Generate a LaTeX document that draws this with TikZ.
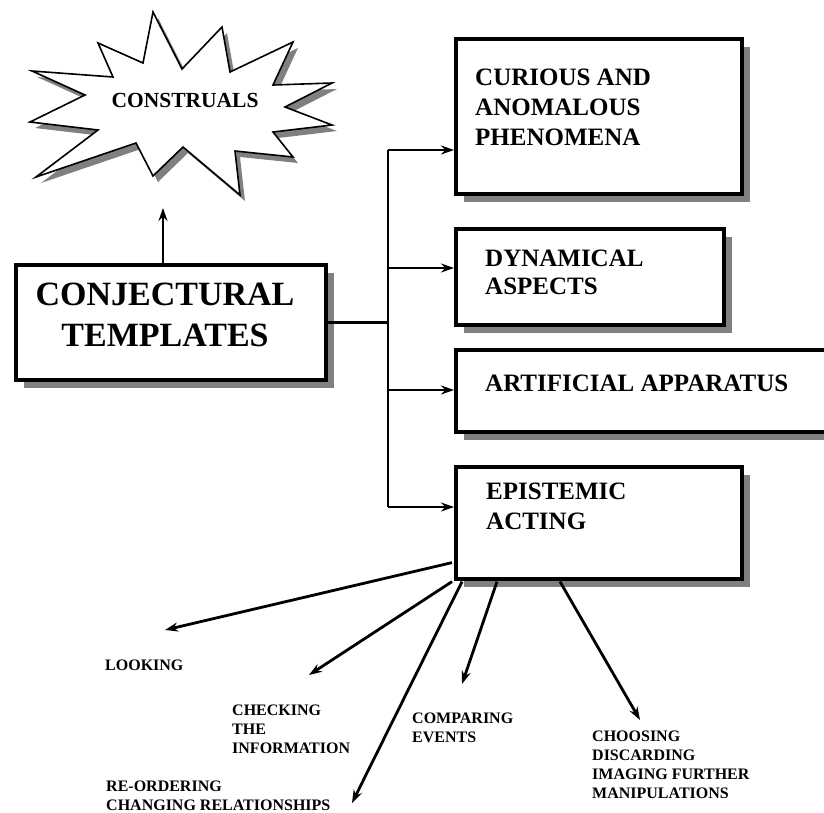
\documentclass[tikz,border=0pt]{standalone}
\usepackage{fontspec}
\setmainfont{Liberation Serif}
\usetikzlibrary{arrows.meta,shadows}

\tikzset{
  framebox/.style = {draw, line width = 3.6pt, fill = white, rectangle,
    anchor = north west, inner sep = 0pt,
    drop shadow = {shadow xshift = 8pt, shadow yshift = -8pt,
      fill = black!50, opacity = 1}},
  boxtext/.style = {anchor = base west, align = left, inner sep = 0pt,
    font = \fontsize{25}{30}\selectfont\bfseries},
  leaftext/.style = {anchor = base west, align = left, inner sep = 0pt,
    font = \fontsize{16}{19}\selectfont\bfseries},
  arr/.style = {line width = 2.8pt, -{Stealth[length = 13pt, width = 9pt]}},
  link/.style = {line width = 2.8pt}
}

\begin{document}
\begin{tikzpicture}[x = 1pt, y = -1pt]
  \clip (0, 0) rectangle (824, 812);

  % the burst
  \filldraw[fill = white, line width = 1.6pt, line join = miter,
      drop shadow = {shadow xshift = 5pt, shadow yshift = -6pt,
        fill = black!50, opacity = 1}]
    (153, 12) -- (182, 69) -- (222, 27) -- (230, 72) -- (293, 42)
    -- (273, 85) -- (332, 83) -- (285, 107) -- (332, 125) -- (273, 132)
    -- (293, 157) -- (235, 151) -- (240, 195) -- (183, 147) -- (153, 176)
    -- (136, 143) -- (36, 177) -- (98, 130) -- (30, 122) -- (85, 95)
    -- (32, 71) -- (113, 77) -- (98, 43) -- (143, 63) -- cycle;
  \node[anchor = base, inner sep = 0pt,
      font = \fontsize{21.5}{26}\selectfont\bfseries]
    (construals) at (185, 107) {CONSTRUALS};
  \coordinate (burst) at (163, 208);

  % main box
  \node[framebox, minimum width = 310pt, minimum height = 115pt]
    (conj) at (14, 263) {};
  \node[anchor = base, align = center, inner sep = 0pt,
      font = \fontsize{34}{41}\selectfont\bfseries]
    (conjtext) at (165, 346) {CONJECTURAL\\TEMPLATES};
  \draw[arr] (conj.north -| burst) -- (burst);

  % right column
  \node[framebox, minimum width = 286pt, minimum height = 155pt]
    (curious) at (454, 37) {};
  \node[boxtext] (curioustext) at (475, 145)
    {CURIOUS AND\\ANOMALOUS\\PHENOMENA};

  \node[framebox, minimum width = 268pt, minimum height = 96pt]
    (dynamic) at (454, 227) {};
  \node[boxtext, font = \fontsize{25}{28}\selectfont\bfseries]
    (dynamictext) at (485, 294) {DYNAMICAL\\ASPECTS};

  \node[framebox, minimum width = 390pt, minimum height = 82pt]
    (artificial) at (454, 348) {};
  \node[boxtext] (artificialtext) at (485, 391) {ARTIFICIAL APPARATUS};

  \node[framebox, minimum width = 286pt, minimum height = 112pt]
    (epistemic) at (454, 465) {};
  \node[boxtext] (epistemictext) at (486, 529) {EPISTEMIC\\ACTING};

  % the trunk
  \coordinate (b1) at (388, 150);
  \coordinate (b2) at (388, 268);
  \coordinate (b3) at (388, 390);
  \coordinate (b4) at (388, 507);
  \draw[link] (conj.east) -- (conj.east -| b1);
  \draw[link] (b1) -- (b4);
  \foreach \b/\t in {b1/curious, b2/dynamic, b3/artificial, b4/epistemic}
    \draw[arr] (\b) -- (\b -| \t.west);

  % the ways of acting
  \coordinate (looktip) at (165, 630);
  \coordinate (checktip) at (309, 675);
  \coordinate (ordertip) at (352, 803);
  \coordinate (comparetip) at (462, 684);
  \coordinate (choosetip) at (640, 720);
  \draw[arr] ([xshift = -2pt, yshift = 18pt]epistemic.south west) -- (looktip);
  \draw[arr] ([xshift = -2pt, yshift = -1pt]epistemic.south west) -- (checktip);
  \draw[arr] ([xshift = 8pt, yshift = -1pt]epistemic.south west) -- (ordertip);
  \draw[arr] ([xshift = 43pt, yshift = -1pt]epistemic.south west) -- (comparetip);
  \draw[arr] ([xshift = 106pt, yshift = -1pt]epistemic.south west) -- (choosetip);

  \node[leaftext] (looking) at (105, 670) {LOOKING};
  \node[leaftext] (checking) at (232, 753) {CHECKING\\THE\\INFORMATION};
  \node[leaftext] (reordering) at (106, 810)
    {RE-ORDERING\\CHANGING RELATIONSHIPS};
  \node[leaftext] (comparing) at (412, 742) {COMPARING\\EVENTS};
  \node[leaftext] (choosing) at (592, 798)
    {CHOOSING\\DISCARDING\\IMAGING FURTHER\\MANIPULATIONS};

\end{tikzpicture}
\end{document}
